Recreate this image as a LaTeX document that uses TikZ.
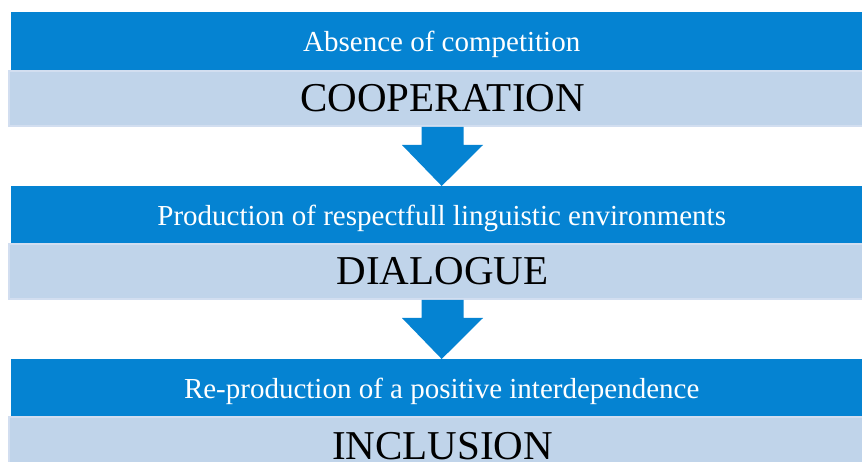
\documentclass[tikz,border=0pt]{standalone}
\usepackage{fontspec}
\setmainfont{Liberation Serif}
\usepackage{tikz}
\usetikzlibrary{positioning,calc}

\definecolor{barblue}{RGB}{5,131,210}
\definecolor{barpale}{RGB}{192,212,234}
\definecolor{paleedge}{RGB}{210,222,240}

\begin{document}
\begin{tikzpicture}[x=1pt,y=-1pt]
	\tikzset{
		head/.style={fill=barblue, text=white, anchor=north west, inner sep=0pt,
			minimum width=861pt, minimum height=58pt, text height=20pt, text depth=0pt,
			font=\fontsize{29}{31}\selectfont},
		pale/.style={fill=barpale, draw=paleedge, line width=2pt, anchor=north west, inner sep=0pt,
			minimum width=867pt, minimum height=55pt, text height=27pt, text depth=0pt,
			font=\fontsize{41}{44}\selectfont},
		flow/.style={fill=barblue}
	}
	\useasboundingbox (0,0) rectangle (862,462);
	\clip (0,0) rectangle (862,462);
	\node[head] (head1) at (11,12) {Absence of competition};
	\node[pale] (pale1) at (8,70) {COOPERATION};
	\node[head] (head2) at (11,186) {Production of respectfull linguistic environments};
	\node[pale] (pale2) at (8,243) {DIALOGUE};
	\node[head] (head3) at (11,359) {Re-production of a positive interdependence};
	\node[pale, text height=29pt] (pale3) at (8,416) {INCLUSION};
	% block arrows between the stages
	\foreach \a/\b in {pale1/head2, pale2/head3}
		\fill[flow] ($(\a.south)+(-21,0)$) -- ++(0,18) -- ++(-19.5,0)
			-- (\b.north) -- ($(\a.south)+(40.5,18)$)
			-- ($(\a.south)+(21,18)$) -- ($(\a.south)+(21,0)$) -- cycle;
\end{tikzpicture}
\end{document}
